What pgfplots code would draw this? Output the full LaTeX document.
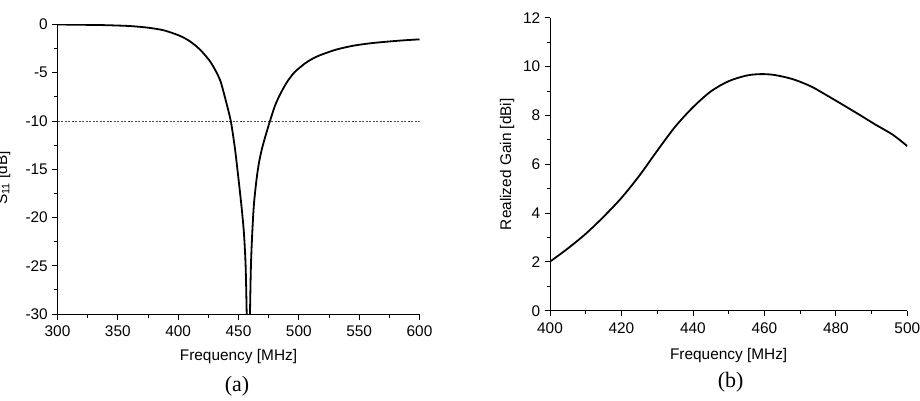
\documentclass[border=0pt]{standalone}
\usepackage{pgfplots}
\pgfplotsset{compat=1.18}
\usepackage{fontspec}
\setmainfont{Liberation Sans}
\newfontfamily\capfont{Liberation Serif}
\newcommand\lblfont{\fontsize{15.4}{18}\selectfont}
\begin{document}
\begin{tikzpicture}[font=\lblfont]
\pgfplotsset{
  myax/.style={
    scale only axis,
    axis lines*=left,
    axis line style={-, line width=0.9pt},
    tick align=outside,
    tick style={line width=0.8pt, black},
    major tick length=5.5pt,
    minor tick length=3.5pt,
    minor x tick num=1,
    minor y tick num=1,
    /pgf/number format/assume math mode=true,
    /pgf/number format/1000 sep={},
    tick label style={font=\lblfont},
    label style={font=\lblfont},
    xticklabel style={inner sep=0pt, yshift=-6pt},
    yticklabel style={inner sep=0pt, xshift=-4pt},
    every axis x label/.style={at={(axis description cs:0.5,0)}, anchor=base},
  }
}
\begin{axis}[myax,
  at={(57.5pt,86pt)}, anchor=south west,
  width=362pt, height=289.5pt,
  xmin=300, xmax=600, ymin=-30, ymax=0,
  xtick={300,350,...,600}, ytick={-30,-25,...,0},
  xlabel={Frequency [MHz]},
  x label style={yshift=-46pt},
  ylabel={S\textsubscript{11} [dB]},
  y label style={at={(axis description cs:-0.1395,0.47)}, anchor=base},
  clip=true,
]
\addplot[black!70, line width=0.8pt, dash pattern=on 2pt off 1.5pt] coordinates {(300,-10) (600,-10)};
\addplot[black, line width=1.8pt, smooth, tension=0.45] coordinates {
(300,0) (320,-0.03) (340,-0.07) (360,-0.16) (375,-0.33) (388,-0.6) (400,-1.1)
(408,-1.6) (415,-2.25) (420,-2.85) (426,-3.75) (430,-4.55) (435,-5.85)
(439.5,-7.9) (443.6,-10) (447,-12.8) (450,-16) (452.6,-19) (454.5,-21.6)
(455.9,-25) (456.8,-30) (457.5,-35) (458.8,-35) (459.5,-30) (460.3,-25)
(461.4,-21.6) (462.8,-18.6) (465,-16.0) (467,-14.3) (469.2,-13) (472,-11.7) (476.1,-10) (480,-8.5)
(484,-7.35) (490,-6.0) (496,-5.0) (500,-4.55) (506,-3.95) (512,-3.5) (518,-3.16)
(531,-2.6) (545,-2.2) (559,-1.95) (573,-1.78) (587,-1.64) (600,-1.54)
};
\end{axis}
\begin{axis}[myax,
  at={(550pt,89.3pt)}, anchor=south west,
  width=357.3pt, height=293pt,
  xmin=400, xmax=500, ymin=0, ymax=12,
  xtick={400,420,...,500}, ytick={0,2,...,12},
  xlabel={Frequency [MHz]},
  x label style={yshift=-48.3pt},
  ylabel={Realized Gain [dBi]},
  y label style={at={(axis description cs:-0.109,0.5)}, anchor=base},
]
\addplot[black, line width=1.8pt, smooth] coordinates {
(400,2.01) (405,2.55) (410,3.15) (415,3.85) (420,4.62) (425,5.53) (430,6.55)
(435,7.53) (440,8.33) (445,8.98) (450,9.4) (455,9.63) (459,9.69) (463,9.65)
(468,9.48) (473,9.19) (477,8.86) (482,8.43) (487,7.99) (491,7.63) (496,7.2) (500,6.74)
};
\end{axis}
\node[anchor=base, font=\capfont\fontsize{22}{24}\selectfont] at (237pt,9pt) {(a)};
\node[anchor=base, font=\capfont\fontsize{22}{24}\selectfont] at (730.7pt,13pt) {(b)};
\pgfresetboundingbox
\useasboundingbox (0pt,0pt) rectangle (920pt,400pt);
\end{tikzpicture}
\end{document}
